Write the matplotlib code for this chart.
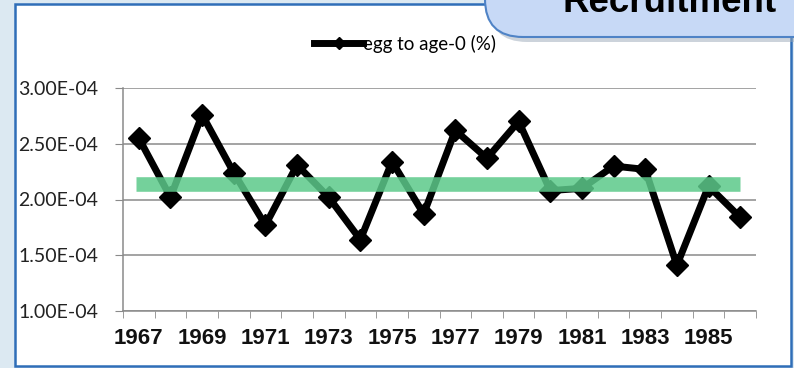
import matplotlib

matplotlib.use("Agg")
import matplotlib.pyplot as plt  # noqa: E402
import numpy as np  # noqa: E402
from matplotlib.patches import FancyBboxPatch, Rectangle  # noqa: E402
from matplotlib.transforms import IdentityTransform  # noqa: E402

# egg -> age-0 survival, one value per year
years = list(range(1967, 1987))
egg_to_age0 = [2.55e-4, 2.02e-4, 2.76e-4, 2.24e-4, 1.77e-4, 2.31e-4, 2.02e-4,
               1.64e-4, 2.34e-4, 1.87e-4, 2.62e-4, 2.37e-4, 2.70e-4, 2.08e-4,
               2.10e-4, 2.30e-4, 2.27e-4, 1.41e-4, 2.12e-4, 1.84e-4]
mean_level = 2.14e-4
y_ticks = [1.0e-4, 1.5e-4, 2.0e-4, 2.5e-4, 3.0e-4]
title_text = "Recruitment"
series_label = "egg to age-0 (%)"

W, H = 794, 368
fig = plt.figure(figsize=(W / 100, H / 100), dpi=100)
fig.patch.set_facecolor("#dce9f2")

px = IdentityTransform()

# white slide panel with blue frame (behind the axes)
panel = Rectangle((15, 2), 776, 362, transform=px, facecolor="white",
                  edgecolor="#2f6eb8", linewidth=1.8, zorder=-5)
fig.patches.append(panel)

ax = fig.add_axes([123 / W, (H - 311) / H, (756 - 123) / W, (311 - 88) / H])
ax.set_facecolor("none")
ax.set_zorder(1)

xs = np.arange(len(years))
line, = ax.plot(xs, egg_to_age0, color="black", linewidth=5, marker="D",
                markersize=11, label=series_label, zorder=3)
ax.plot([-0.1, 19.0], [mean_level, mean_level], color="#5cc98a", alpha=0.85,
        linewidth=10.5, solid_capstyle="butt", zorder=4)

ax.set_xlim(-0.5, len(years) - 0.5)
ax.set_ylim(1.0e-4, 3.0e-4)
ax.set_yticks(y_ticks)
ax.set_yticklabels([f"{v:.2E}" for v in y_ticks], family="Lato", fontsize=14,
                   color="#222222")
ax.grid(axis="y", color="#8a8a8a", linewidth=1.1)
ax.set_axisbelow(True)

ax.set_xticks(xs[::2])
ax.set_xticklabels([str(y) for y in years[::2]], family="Liberation Sans",
                   fontweight="bold", fontsize=16, color="#111111")
ax.set_xticks(np.arange(-0.5, len(years)), minor=True)
ax.tick_params(axis="x", which="major", length=0, pad=12)
ax.tick_params(axis="x", which="minor", length=5, color="#8a8a8a", direction="out")
ax.tick_params(axis="y", length=6, color="#8a8a8a", pad=12)

for side in ("top", "right"):
    ax.spines[side].set_visible(False)
for side in ("left", "bottom"):
    ax.spines[side].set_color("#8a8a8a")
    ax.spines[side].set_linewidth(1.1)

leg = ax.legend(handles=[line], loc="center", bbox_to_anchor=(405 / W, (H - 44) / H),
                bbox_transform=fig.transFigure, frameon=False,
                prop={"family": "Lato", "size": 13.5}, handlelength=2.6,
                handletextpad=0.0, borderaxespad=0, markerscale=0.6)

# title callout tab, partly cut off at the top edge
shadow = FancyBboxPatch((489, 326), 360, 110, transform=px,
                        boxstyle="round,pad=0,rounding_size=38",
                        facecolor="#9aa8b8", edgecolor="none", alpha=0.5, zorder=5)
tab = FancyBboxPatch((485, 331), 360, 110, transform=px,
                     boxstyle="round,pad=0,rounding_size=38",
                     facecolor="#c7d9f6", edgecolor="#4f83c6", linewidth=1.5, zorder=6)
fig.patches.extend([shadow, tab])
fig.text(777 / W, (H - 12) / H, title_text, family="Liberation Sans",
         fontweight="bold", fontsize=26.5, ha="right", va="baseline",
         color="black", zorder=7)

fig.savefig("out.png", dpi=100)
